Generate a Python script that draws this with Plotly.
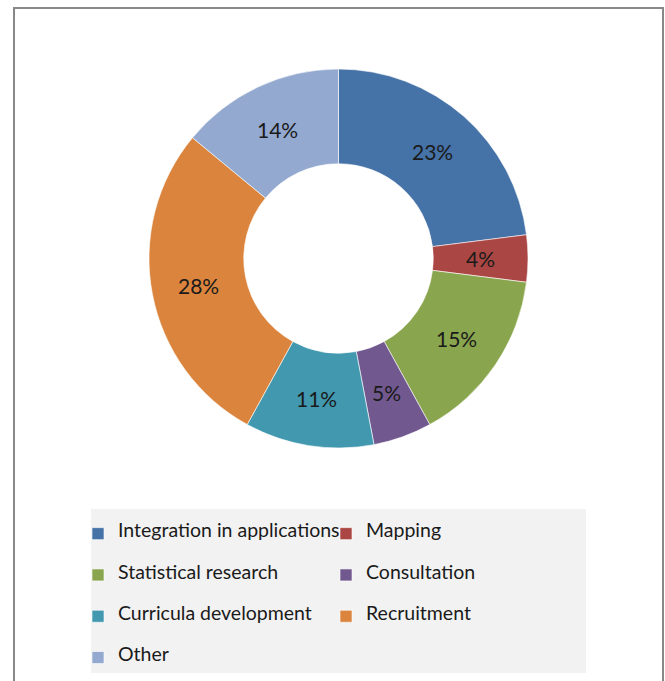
import math
import plotly.graph_objects as go

# Share of activities
categories = [
    "Integration in applications",
    "Mapping",
    "Statistical research",
    "Consultation",
    "Curricula development",
    "Recruitment",
    "Other",
]
shares = [23, 4, 15, 5, 11, 28, 14]
colors = ["#4572A7", "#AA4643", "#89A54E", "#71588F", "#4198AF", "#DB843D", "#93A9CF"]

W, H = 665, 681
FONT = "Lato"
LEGEND_FS = 19.5
ROW_FS = 9.82  # base legend font; sets the row pitch of the padded entries
HOLE = 0.5

# Pad each legend entry with blank lines so rows are spaced out,
# while the visible text uses the larger span size.
legend_labels = [
    f" <br><span style='font-size:{LEGEND_FS}px'>{c}</span><br> " for c in categories
]

# donut centre and outer radius in pixels
cx, cy, r = 338.5, 258.5, 189.5


def py2paper(py):
    return 1 - py / H


fig = go.Figure(
    go.Pie(
        labels=legend_labels,
        values=shares,
        hole=HOLE,
        sort=False,
        direction="clockwise",
        rotation=0,
        marker=dict(colors=colors, line=dict(color="white", width=0.6)),
        textinfo="none",
        hoverinfo="skip",
        domain=dict(
            x=[(cx - r) / W, (cx + r) / W],
            y=[py2paper(cy + r), py2paper(cy - r)],
        ),
    )
)

# Percent labels centred in the ring at each slice's mid-angle
total = sum(shares)
r_mid = r * (1 + HOLE) / 2
annotations = []
acc = 0
for v in shares:
    mid = (acc + v / 2) / total * 2 * math.pi
    acc += v
    px = cx + r_mid * math.sin(mid)
    py = cy - r_mid * math.cos(mid)
    annotations.append(
        dict(
            x=px / W, y=py2paper(py), xref="paper", yref="paper",
            text=f"{round(100 * v / total)}%", showarrow=False,
            xanchor="center", yanchor="middle",
            font=dict(family=FONT, size=21, color="#1a1a1a"),
        )
    )

fig.update_layout(
    width=W,
    height=H,
    margin=dict(l=0, r=0, t=0, b=0, autoexpand=False),
    paper_bgcolor="white",
    plot_bgcolor="white",
    showlegend=True,
    annotations=annotations,
    legend=dict(
        orientation="h",
        x=78 / W,
        y=py2paper(508),
        xanchor="left",
        yanchor="top",
        entrywidth=203,
        entrywidthmode="pixels",
        bgcolor="rgba(0,0,0,0)",
        font=dict(family=FONT, size=ROW_FS, color="#1a1a1a"),
        traceorder="normal",
    ),
    shapes=[
        # outer chart frame (bottom edge runs off the page)
        dict(
            type="rect", xref="paper", yref="paper",
            x0=14 / W, x1=663 / W, y0=py2paper(700), y1=py2paper(8),
            line=dict(color="#888888", width=2), fillcolor="rgba(0,0,0,0)",
            layer="below",
        ),
        # legend panel
        dict(
            type="rect", xref="paper", yref="paper",
            x0=91 / W, x1=586 / W, y0=py2paper(673), y1=py2paper(509),
            line=dict(width=0), fillcolor="#F2F2F2", layer="below",
        ),
    ],
)

fig.write_html("out.html")
